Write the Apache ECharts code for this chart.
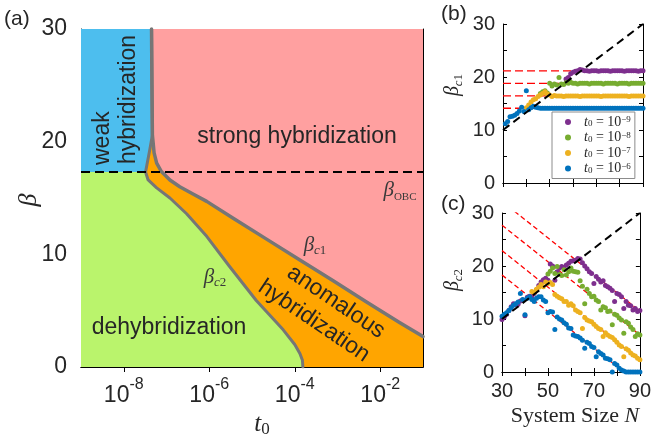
<!DOCTYPE html>
<html><head><meta charset="utf-8">
<script src="https://cdn.jsdelivr.net/npm/echarts@6/dist/echarts.min.js"></script>
<style>html,body{margin:0;padding:0;background:#fff}#c{width:654px;height:441px}</style>
</head><body><div id="c"></div><script>
// ---------- Panel (a): phase diagram, x = log10(t0) ----------
const tickExps = [-8, -6, -4, -2];
const sharedLogT = [-7.35, -7.34, -7.33];
const sharedBeta = [30, 25, 20.6];
const c1LogT = [-7.33, -7.29, -7.23, -7.12, -6.92, -6.69, -6.38, -6.06, -5.44, -4.66, -3.88, -3.10, -2.33, -1.55, -1.0];
const c1Beta = [20.6, 19.0, 18.1, 17.35, 16.6, 16.0, 15.35, 14.7, 13.2, 11.35, 9.5, 7.65, 5.8, 3.95, 2.7];
const c2LogT = [-7.33, -7.39, -7.45, -7.49, -7.43, -7.23, -6.92, -6.53, -6.06, -5.52, -4.90, -4.27, -4.0, -3.88, -3.82, -3.81];
const c2Beta = [20.6, 19.3, 18.1, 17.3, 16.6, 15.9, 15.0, 13.6, 11.6, 8.9, 5.9, 3.3, 2.0, 1.2, 0.6, 0];
const betaOBC = 17.3;

// ---------- Panels (b),(c): system size ----------
const sizeN = [];
for (let n = 30; n <= 90; n++) sizeN.push(n);
const diagN = [30, 90];
const diagBeta = [10, 30];
const c1Levels = [21.15, 18.8, 16.45, 14.1];          // red dashed in (b)
const c2FitStart = [32.2, 27.7, 22.9, 18.3];          // red dashed in (c), value at N=30
const c2FitEnd = [11.5, 7.0, 2.2, -2.4];              // value at N=90
const seriesNames = ['n9', 'n8', 'n7', 'n6'];
const seriesExps = ['9', '8', '7', '6'];

const bPurple = [
 null,null,null,null,null,null,null,null,null,null,
 null,null,null,null,null,null,null,null,null,null,
 null,null,null,null,null,null,null,19.6,19.9,20.6,
 20.9,21.1,21.2,21.4,21.3,21.2,21.2,21.1,21.2,21.2,
 21.2,21.1,21.2,21.2,21.2,21.2,21.1,21.2,21.2,21.2,
 21.2,21.2,21.1,21.2,21.2,21.2,21.2,21.2,21.1,21.2,
 21.2];
const bGreen = [
 null,null,null,null,null,null,null,null,null,null,
 null,null,null,null,null,null,16.9,17.2,17.4,17.0,
 18.8,18.3,18.7,18.5,19.9,18.7,18.6,18.9,18.8,19.0,
 18.8,18.8,18.7,18.8,18.8,18.8,18.8,18.7,18.8,18.8,
 18.8,18.8,18.8,18.7,18.8,18.8,18.8,18.8,18.8,18.7,
 18.8,18.8,18.8,18.8,18.7,18.8,18.8,18.8,18.8,18.8,
 18.8];
const bOrange = [
 null,null,null,null,null,null,null,null,null,null,
 14.2,14.7,15.3,15.7,15.9,16.3,16.6,16.9,17.2,16.8,
 16.6,16.3,16.5,16.4,16.4,16.4,16.3,16.4,16.4,16.4,
 16.4,16.4,16.4,16.3,16.4,16.4,16.4,16.4,16.4,16.4,
 16.4,16.4,16.3,16.4,16.4,16.4,16.4,16.4,16.4,16.4,
 16.4,16.4,16.4,16.4,16.3,16.4,16.4,16.4,16.4,16.4,
 16.4];
const bBlue = [
 null,11.2,11.6,12.5,12.6,12.8,13.1,13.6,14.3,13.5,
 17.4,13.8,14.2,14.5,14.3,14.2,14.1,14.1,14.1,14.1,
 14.1,14.1,14.1,14.1,14.1,14.1,14.1,14.1,14.1,14.1,
 14.1,14.1,14.1,14.1,14.1,14.1,14.1,14.1,14.1,14.1,
 14.1,14.1,14.1,14.1,14.1,14.1,14.1,14.1,14.1,14.1,
 14.1,14.1,14.1,14.1,14.1,14.1,14.1,14.1,14.1,14.1,
 14.1];

const cPurple = [
 9.9,10.4,10.9,11.6,12.3,12.9,12.7,12.8,13.4,13.6,
 10.6,14.1,14.3,14.2,14.8,15.5,16.3,17.0,17.4,17.7,
 17.3,20.4,20.0,17.3,18.9,19.6,19.9,19.7,20.2,20.5,
 20.9,21.0,21.1,21.4,21.3,20.6,20.0,19.5,18.9,18.6,
 16.7,18.0,17.5,17.0,17.2,16.3,16.1,15.8,15.4,13.3,
 14.8,14.6,14.2,12.0,13.3,12.6,12.5,11.7,12.0,11.4,
 11.6];
const cGreen = [
 null,null,null,null,null,null,null,null,null,null,
 null,null,null,null,null,null,null,null,null,null,
 18.5,19.0,19.6,18.6,19.9,18.4,18.2,19.3,18.3,18.9,
 19.6,19.0,18.9,18.8,17.2,16.2,12.9,15.6,14.8,14.2,
 14.3,13.6,13.3,11.7,12.3,12.1,11.4,11.5,8.9,10.9,
 10.7,10.2,9.8,7.3,9.5,9.2,8.5,8.0,6.7,7.2,
 7.0];
const cOrange = [
 null,null,null,null,null,null,null,null,null,null,
 null,null,null,15.2,15.0,15.6,16.0,16.5,16.1,17.0,
 16.7,16.9,16.5,14.6,14.3,14.0,13.8,13.3,13.3,12.6,
 12.9,12.5,11.7,11.4,11.2,8.2,10.3,9.8,9.6,9.5,
 9.0,8.6,8.2,8.0,6.7,7.4,7.0,6.7,6.5,6.1,
 5.6,5.1,4.8,2.9,4.4,4.1,3.6,3.2,3.0,2.6,
 2.3];
const cBlue = [
 10.5,10.9,11.2,11.6,12.1,12.6,12.9,13.2,14.8,13.7,
 10.8,13.9,14.2,13.7,13.3,13.9,14.2,14.2,13.6,13.3,
 11.2,11.4,11.3,8.0,10.4,10.0,9.8,9.3,9.0,8.3,
 8.2,7.0,6.8,6.7,6.4,6.0,4.5,5.6,5.4,4.8,
 4.6,2.9,3.8,3.5,3.2,2.6,2.5,2.3,0.0,1.6,
 1.3,0.7,0.4,0.2,0,0,0,0,0,0,
 0];

const colors = ['#7E2F8E', '#77AC30', '#EDB120', '#0072BD'];
const bData = [bPurple, bGreen, bOrange, bBlue];
const cData = [cPurple, cGreen, cOrange, cBlue];

// ---------- build ----------
const SANS = 'Liberation Sans, Arial, sans-serif';
const SERIF = 'Liberation Serif, Times New Roman, serif';
const TXT = '#262626';
const zip = (a, b) => a.map((v, i) => [v, b[i]]);
const pairs = (vals) => sizeN.map((n, i) => [n, vals[i]]).filter(p => p[1] !== null);

const xMin = -9, xMax = -1, yMin = 0, yMax = 30;
const shared = zip(sharedLogT, sharedBeta);
const c1 = zip(c1LogT, c1Beta);
const c2 = zip(c2LogT, c2Beta);
const c2Upper = c2.filter(p => p[1] >= betaOBC);
const c2Lower = c2.filter(p => p[1] <= betaOBC);

const polyPink = [[xMin, yMin], [xMax, yMin], [xMax, yMax], [xMin, yMax]];
const polyBlue = [[xMin, yMax]].concat(shared, c2Upper, [[xMin, betaOBC]]);
const polyGreen = [[xMin, betaOBC]].concat(c2Lower, [[xMin, yMin]]);
const polyOrange = c1.concat([[xMax, yMin]], c2.slice().reverse());

function poly(pts, color) {
  return {
    type: 'custom', coordinateSystem: 'cartesian2d', xAxisIndex: 0, yAxisIndex: 0,
    silent: true, data: [[xMin, yMin]], clip: true, z: 1,
    renderItem: (params, api) => ({
      type: 'polygon',
      shape: { points: pts.map(p => api.coord(p)) },
      style: { fill: color, stroke: null }
    })
  };
}

const axisLine = { show: true, lineStyle: { color: '#000', width: 1 } };
function xAx(grid, pos, opts) {
  return Object.assign({ gridIndex: grid, type: 'value', position: pos, axisLine, splitLine: { show: false } }, opts);
}
function yAx(grid, pos, opts) {
  return Object.assign({ gridIndex: grid, type: 'value', position: pos, axisLine, splitLine: { show: false } }, opts);
}

const xAxis = [
  xAx(0, 'bottom', { min: xMin, max: xMax,
    axisTick: { inside: true, length: 5, customValues: tickExps, lineStyle: { color: '#000' } },
    axisLabel: { customValues: tickExps, margin: 10, formatter: v => '{b|10}{s|' + v + '}',
      rich: { b: { fontSize: 23, fontFamily: SANS, color: TXT, lineHeight: 30, verticalAlign: 'bottom' },
              s: { fontSize: 16, fontFamily: SANS, color: TXT, lineHeight: 16, verticalAlign: 'top' } } } }),
  xAx(0, 'top', { min: xMin, max: xMax,
    axisTick: { inside: true, length: 5, customValues: tickExps, lineStyle: { color: '#000' } },
    axisLabel: { show: false } }),
  xAx(1, 'bottom', { min: 30, max: 90, interval: 10,
    axisTick: { inside: true, length: 4, lineStyle: { color: '#000' } }, axisLabel: { show: false } }),
  xAx(1, 'top', { min: 30, max: 90, interval: 10,
    axisTick: { inside: true, length: 4, lineStyle: { color: '#000' } }, axisLabel: { show: false } }),
  xAx(2, 'bottom', { min: 30, max: 90, interval: 10,
    axisTick: { inside: true, length: 4, lineStyle: { color: '#000' } },
    axisLabel: { customValues: [30, 50, 70, 90], margin: 9, fontSize: 20, fontFamily: SANS, color: TXT } }),
  xAx(2, 'top', { min: 30, max: 90, interval: 10,
    axisTick: { inside: true, length: 4, lineStyle: { color: '#000' } }, axisLabel: { show: false } })
];
const yAxis = [
  yAx(0, 'left', { min: 0, max: 30, interval: 10,
    axisTick: { inside: true, length: 5, lineStyle: { color: '#000' } },
    axisLabel: { margin: 14, fontSize: 23, fontFamily: SANS, color: TXT } }),
  yAx(0, 'right', { min: 0, max: 30, interval: 10,
    axisTick: { inside: true, length: 5, lineStyle: { color: '#000' } }, axisLabel: { show: false } }),
  yAx(1, 'left', { min: 0, max: 30, interval: 5,
    axisTick: { inside: true, length: 4, lineStyle: { color: '#000' } },
    axisLabel: { margin: 8, fontSize: 20, fontFamily: SANS, color: TXT, formatter: v => v % 10 === 0 ? String(v) : '' } }),
  yAx(1, 'right', { min: 0, max: 30, interval: 5,
    axisTick: { inside: true, length: 4, lineStyle: { color: '#000' } }, axisLabel: { show: false } }),
  yAx(2, 'left', { min: 0, max: 30, interval: 5,
    axisTick: { inside: true, length: 4, lineStyle: { color: '#000' } },
    axisLabel: { margin: 8, fontSize: 20, fontFamily: SANS, color: TXT, formatter: v => v % 10 === 0 ? String(v) : '' } }),
  yAx(2, 'right', { min: 0, max: 30, interval: 5,
    axisTick: { inside: true, length: 4, lineStyle: { color: '#000' } }, axisLabel: { show: false } })
];

const series = [
  poly(polyPink, '#FFA0A0'),
  poly(polyBlue, '#4DBEEE'),
  poly(polyGreen, '#BAF46C'),
  poly(polyOrange, '#FFA500'),
  { type: 'line', xAxisIndex: 0, yAxisIndex: 0, data: shared.concat(c1.slice(1)), symbol: 'none', silent: true, z: 3,
    lineStyle: { color: '#767676', width: 3.5, cap: 'round', join: 'round' } },
  { type: 'line', xAxisIndex: 0, yAxisIndex: 0, data: shared.concat(c2.slice(1)), symbol: 'none', silent: true, z: 3,
    lineStyle: { color: '#767676', width: 3, cap: 'round', join: 'round' } },
  { type: 'line', xAxisIndex: 0, yAxisIndex: 0, data: [[xMin, betaOBC], [xMax, betaOBC]], symbol: 'none', silent: true, z: 4,
    lineStyle: { color: '#000', width: 2, type: [9, 5] } }
];
// red dashed reference lines
c1Levels.forEach(lv => series.push({ type: 'line', xAxisIndex: 2, yAxisIndex: 2, data: [[30, lv], [90, lv]],
  symbol: 'none', silent: true, z: 2, lineStyle: { color: '#FF0000', width: 1.3, type: [8, 4] } }));
c2FitStart.forEach((s, i) => series.push({ type: 'line', xAxisIndex: 4, yAxisIndex: 4, data: [[30, s], [90, c2FitEnd[i]]],
  symbol: 'none', silent: true, z: 2, clip: true, lineStyle: { color: '#FF0000', width: 1.3, type: [5, 3] } }));
// scatter data
seriesNames.forEach((nm, i) => {
  series.push({ name: nm, type: 'scatter', xAxisIndex: 2, yAxisIndex: 2, data: pairs(bData[i]),
    symbolSize: 5, clip: false, z: 3, itemStyle: { color: colors[i], opacity: 1 } });
});
seriesNames.forEach((nm, i) => {
  series.push({ name: nm, type: 'scatter', xAxisIndex: 4, yAxisIndex: 4, data: pairs(cData[i]),
    symbolSize: 5, clip: false, z: 3, itemStyle: { color: colors[i], opacity: 1 } });
});
// black dashed diagonals
[2, 4].forEach(ax => series.push({ type: 'line', xAxisIndex: ax, yAxisIndex: ax, data: zip(diagN, diagBeta),
  symbol: 'none', silent: true, z: 4, lineStyle: { color: '#000', width: 2, type: [8, 5] } }));

function txt(text, x, y, font, opts) {
  return Object.assign({ type: 'text', z: 100, silent: true, x: x, y: y,
    style: Object.assign({ text: text, font: font, fill: TXT, align: 'center', verticalAlign: 'middle' }, (opts && opts.style) || {}) },
    opts && opts.rotation !== undefined ? { rotation: opts.rotation } : {});
}
const betaRich = (size, subSize, color) => ({
  g: { fontFamily: SERIF, fontStyle: 'italic', fontSize: size, fill: color, lineHeight: size + 4 },
  ci: { fontFamily: SERIF, fontStyle: 'italic', fontSize: subSize, fill: color, verticalAlign: 'bottom', lineHeight: subSize },
  cr: { fontFamily: SERIF, fontSize: subSize, fill: color, verticalAlign: 'bottom', lineHeight: subSize }
});
const deg = Math.PI / 180;

const graphic = [
  txt('(a)', 4, 19, '21px ' + SANS, { style: { align: 'left' } }),
  txt('(b)', 441, 14, '21px ' + SANS, { style: { align: 'left' } }),
  txt('(c)', 441, 204, '21px ' + SANS, { style: { align: 'left' } }),
  txt('β', 29, 200, 'italic 26px ' + SERIF, { rotation: Math.PI / 2 }),
  { type: 'text', z: 100, silent: true, x: 262, y: 424,
    style: { text: '{t|t}{s|0}', align: 'center', verticalAlign: 'middle',
      rich: { t: { fontFamily: SERIF, fontStyle: 'italic', fontSize: 25, fill: TXT, lineHeight: 28 },
              s: { fontFamily: SERIF, fontSize: 17, fill: TXT, verticalAlign: 'bottom', lineHeight: 17 } } } },
  { type: 'text', z: 100, silent: true, x: 453, y: 85, rotation: Math.PI / 2,
    style: { text: '{g|β}{ci|c}{cr|1}', align: 'center', verticalAlign: 'middle', rich: betaRich(20, 13, TXT) } },
  { type: 'text', z: 100, silent: true, x: 453, y: 280, rotation: Math.PI / 2,
    style: { text: '{g|β}{ci|c}{cr|2}', align: 'center', verticalAlign: 'middle', rich: betaRich(20, 13, TXT) } },
  { type: 'text', z: 100, silent: true, x: 575, y: 416,
    style: { text: '{r|System Size }{i|N}', align: 'center', verticalAlign: 'middle',
      rich: { r: { fontFamily: SERIF, fontSize: 22, fill: TXT }, i: { fontFamily: SERIF, fontStyle: 'italic', fontSize: 22, fill: TXT } } } },
  txt('strong hybridization', 297, 137, '23px ' + SANS),
  txt('dehybridization', 169, 328, '23px ' + SANS),
  txt('weak', 103, 165, '23px ' + SANS, { rotation: Math.PI / 2, style: { align: 'left' } }),
  txt('hybridization', 129, 164, '23px ' + SANS, { rotation: Math.PI / 2, style: { align: 'left' } }),
  txt('anomalous', 336, 302, '23px ' + SANS, { rotation: -34 * deg }),
  txt('hybridization', 314, 321, '23px ' + SANS, { rotation: -34 * deg }),
  { type: 'text', z: 100, silent: true, x: 400, y: 190,
    style: { text: '{g|β}{cr|OBC}', align: 'center', verticalAlign: 'middle', rich: betaRich(21, 11, '#3a3a3a') } },
  { type: 'text', z: 100, silent: true, x: 315, y: 245,
    style: { text: '{g|β}{ci|c}{cr|1}', align: 'center', verticalAlign: 'middle', rich: betaRich(21, 13, '#3a3a3a') } },
  { type: 'text', z: 100, silent: true, x: 215, y: 277,
    style: { text: '{g|β}{ci|c}{cr|2}', align: 'center', verticalAlign: 'middle', rich: betaRich(21, 13, '#3a3a3a') } }
];

const chart = echarts.init(document.getElementById('c'), null, { renderer: 'canvas' });
chart.setOption({
  animation: false,
  backgroundColor: '#fff',
  grid: [
    { left: 81, top: 29, width: 342, height: 338 },
    { left: 503, top: 24, width: 140, height: 159 },
    { left: 502, top: 213, width: 142, height: 159 }
  ],
  xAxis, yAxis, series, graphic,
  legend: {
    data: seriesNames, orient: 'vertical', left: 552, top: 112, selectedMode: false,
    icon: 'circle', itemWidth: 6, itemHeight: 6, itemGap: 1.5,
    backgroundColor: '#fff', borderColor: '#8c8c8c', borderWidth: 1, borderRadius: 0,
    padding: [3, 4, 3, 13],
    formatter: nm => '{t|t}{s|0}{r| = 10}{p|−' + seriesExps[seriesNames.indexOf(nm)] + '}',
    textStyle: { padding: [0, 0, 0, 8], lineHeight: 13,
      rich: {
        t: { fontFamily: SERIF, fontStyle: 'italic', fontSize: 14, color: TXT, lineHeight: 13 },
        s: { fontFamily: SERIF, fontSize: 9, color: TXT, verticalAlign: 'bottom', lineHeight: 9 },
        r: { fontFamily: SERIF, fontSize: 14, color: TXT, lineHeight: 13 },
        p: { fontFamily: SERIF, fontSize: 9, color: TXT, verticalAlign: 'top', lineHeight: 9 }
      } }
  }
});
</script></body></html>
